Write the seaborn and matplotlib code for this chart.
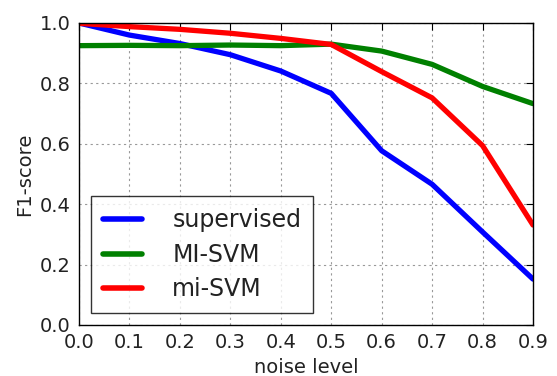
import numpy as np
import pandas as pd
import matplotlib
matplotlib.use("Agg")
import matplotlib.pyplot as plt
import seaborn as sns

noise = [0.0, 0.1, 0.2, 0.3, 0.4, 0.5, 0.6, 0.7, 0.8, 0.9]
supervised = [1.00, 0.960, 0.932, 0.895, 0.841, 0.767, 0.577, 0.466, 0.308, 0.152]
mi_svm_upper = [0.925, 0.926, 0.925, 0.927, 0.925, 0.930, 0.907, 0.863, 0.790, 0.733]
mi_svm_lower = [0.999, 0.988, 0.979, 0.966, 0.949, 0.929, 0.839, 0.752, 0.594, 0.331]
series_names = ["supervised", "MI-SVM", "mi-SVM"]
colors = ["#0000ff", "#008000", "#ff0000"]
xticks = [0.0, 0.1, 0.2, 0.3, 0.4, 0.5, 0.6, 0.7, 0.8, 0.9]
yticks = [0.0, 0.2, 0.4, 0.6, 0.8, 1.0]

df = pd.concat([
    pd.DataFrame({"noise level": noise, "F1-score": supervised, "method": series_names[0]}),
    pd.DataFrame({"noise level": noise, "F1-score": mi_svm_upper, "method": series_names[1]}),
    pd.DataFrame({"noise level": noise, "F1-score": mi_svm_lower, "method": series_names[2]}),
], ignore_index=True)

sns.set_style("white")
plt.rcParams["font.family"] = ["DejaVu Sans"]
plt.rcParams["xtick.direction"] = "in"
plt.rcParams["ytick.direction"] = "in"

fig = plt.figure(figsize=(5.57, 3.76), dpi=100)
ax = fig.add_axes([79/557, 51/376, 454/557, 302/376])

sns.lineplot(data=df, x="noise level", y="F1-score", hue="method",
             palette=colors, linewidth=3.8, ax=ax, legend=True)

ax.set_xlim(0.0, 0.9)
ax.set_ylim(0.0, 1.0)
ax.set_xticks(xticks)
ax.set_yticks(yticks)
ax.set_xticklabels([f"{t:.1f}" for t in xticks], fontsize=14, color="#222222")
ax.set_yticklabels([f"{t:.1f}" for t in yticks], fontsize=14, color="#222222")
ax.set_xlabel("noise level", fontsize=14, color="#222222")
ax.set_ylabel("F1-score", fontsize=14, color="#222222")
ax.grid(True, linestyle=(0, (2, 3)), color="#999999", linewidth=0.8)
ax.tick_params(axis="both", which="both", direction="in", length=5, width=0.8,
               top=True, right=True, color="black", pad=6)
for s in ax.spines.values():
    s.set_visible(True)
    s.set_color("black")
    s.set_linewidth(1.0)

leg = ax.legend(loc="lower left", fontsize=17, frameon=True, fancybox=False,
                handlelength=1.65, borderaxespad=0.5, labelspacing=0.45,
                handletextpad=1.3, borderpad=0.5)
leg.get_frame().set_edgecolor("black")
leg.get_frame().set_linewidth(1.0)
for line in leg.get_lines():
    line.set_linewidth(4)
for t in leg.get_texts():
    t.set_color("#222222")

fig.savefig("out.png", dpi=100, facecolor="white")
